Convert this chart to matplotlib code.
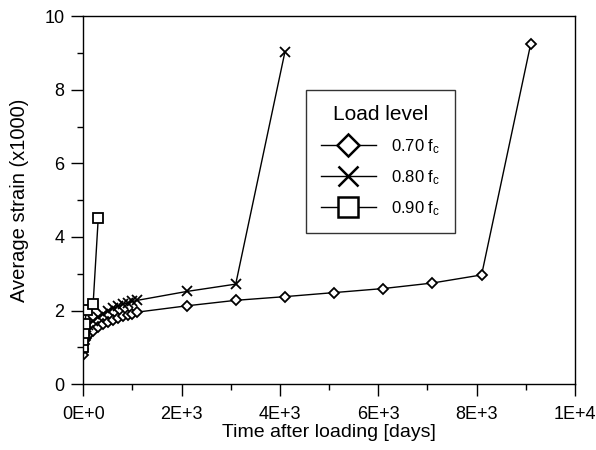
import matplotlib
matplotlib.use('Agg')
import matplotlib.pyplot as plt
from matplotlib.ticker import MultipleLocator, FuncFormatter

plt.rcParams['font.family'] = ['Liberation Sans', 'DejaVu Sans']
plt.rcParams['mathtext.fontset'] = 'custom'
plt.rcParams['mathtext.rm'] = 'Liberation Sans'
plt.rcParams['mathtext.it'] = 'Liberation Sans'

# ---- data ----
days_070 = [0, 1, 7, 28, 56, 100, 200, 300, 400, 500, 600, 700, 800, 900, 1000, 1100,
            2100, 3100, 4100, 5100, 6100, 7100, 8100, 9100]
strain_070 = [0.80, 0.95, 1.10, 1.20, 1.27, 1.33, 1.45, 1.55, 1.63, 1.70, 1.75, 1.80,
              1.85, 1.88, 1.92, 1.96, 2.13, 2.28, 2.38, 2.49, 2.60, 2.75, 2.97, 9.25]

days_080 = [0, 1, 7, 28, 56, 100, 200, 300, 400, 500, 600, 700, 800, 900, 1000, 1100,
            2100, 3100, 4100]
strain_080 = [1.00, 1.10, 1.30, 1.45, 1.55, 1.62, 1.72, 1.83, 1.92, 2.00, 2.06, 2.12,
              2.17, 2.21, 2.25, 2.28, 2.52, 2.72, 9.02]

days_090 = [0, 2, 7, 28, 70, 200, 305]
strain_090 = [1.00, 1.20, 1.40, 1.65, 2.02, 2.17, 4.52]

labels = ['0.70 f$_\\mathrm{c}$', '0.80 f$_\\mathrm{c}$', '0.90 f$_\\mathrm{c}$']

fig = plt.figure(figsize=(5.96, 4.5), dpi=100)
ax = fig.add_axes([0.1397, 0.146, 0.8251, 0.8184])

ax.plot(days_070, strain_070, color='black', lw=1.0, marker='D', ms=5.5,
        mfc='white', mec='black', mew=1.3, label=labels[0])
ax.plot(days_080, strain_080, color='black', lw=1.0, marker='x', ms=7,
        mec='black', mew=1.3, label=labels[1])
ax.plot(days_090, strain_090, color='black', lw=1.0, marker='s', ms=7,
        mfc='white', mec='black', mew=1.3, label=labels[2])

ax.set_xlim(0, 10000)
ax.set_ylim(0, 10)
ax.xaxis.set_major_locator(MultipleLocator(2000))
ax.xaxis.set_minor_locator(MultipleLocator(1000))
ax.yaxis.set_major_locator(MultipleLocator(2))
ax.yaxis.set_minor_locator(MultipleLocator(1))


def sci_fmt(v, pos):
    if v == 0:
        return '0E+0'
    s = f'{v:.0E}'
    mant, ex = s.split('E')
    return f'{mant}E+{int(ex)}'


ax.xaxis.set_major_formatter(FuncFormatter(sci_fmt))
ax.tick_params(which='major', direction='out', length=8.6, width=1.0, labelsize=13,
               top=False, right=False)
ax.tick_params(axis='x', which='major', pad=7)
ax.tick_params(axis='y', which='major', pad=5)
ax.tick_params(which='minor', direction='out', length=4.3, width=1.0,
               top=False, right=False)
for sp in ax.spines.values():
    sp.set_linewidth(1.0)

ax.set_xlabel('Time after loading [days]', fontsize=14, labelpad=1)
ax.set_ylabel('Average strain (x1000)', fontsize=14.5, labelpad=11)

leg = ax.legend(title='Load level', loc='lower left', bbox_to_anchor=(0.4526, 0.411),
                markerscale=2.0, handlelength=3.3, fontsize=12, title_fontsize=15,
                frameon=True, fancybox=False, edgecolor='black', borderpad=0.9,
                labelspacing=0.75, handletextpad=0.9, borderaxespad=0)
leg.get_frame().set_linewidth(1.0)
leg._legend_box.align = 'center'
for line in leg.get_lines():
    line.set_markeredgewidth(1.8)

fig.savefig('out.png', dpi=100)
